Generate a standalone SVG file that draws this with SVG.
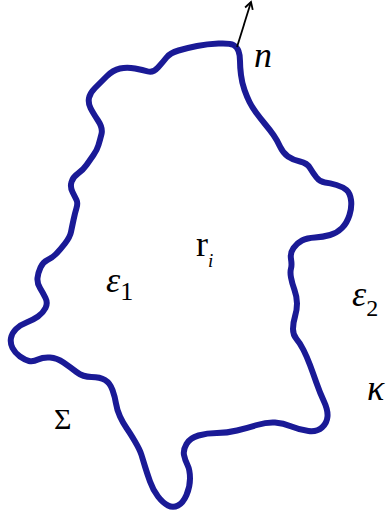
<svg xmlns="http://www.w3.org/2000/svg" width="390" height="520" viewBox="0 0 390 520">
<style>
.t{font-family:"Liberation Serif","Times New Roman",serif;fill:#000}
.it{font-style:italic}
</style>
<defs>
<marker id="ah" markerWidth="10" markerHeight="10" refX="8" refY="5" orient="auto" markerUnits="userSpaceOnUse">
<path d="M1,1 L8,5 L1,9" fill="none" stroke="#000" stroke-width="1.8"/>
</marker>
</defs>
<rect width="390" height="520" fill="#fff"/>
<g id="boundary">
<path d="M238.5,51 Q240,55 240,61 Q240,67 241,75 Q242,83 244.5,90 Q247,97 249.5,102 Q252,107 256,112.5 Q260,118 265,124 Q270,130 273.5,135 Q277,140 280,146.5 Q283,153 288,156.5 Q293,160 300,161.5 Q307,163 310,168 Q313,173 316.5,177.5 Q320,182 325,182.5 Q330,183 336.5,185 Q343,187 346.5,190 Q350,193 351,200 Q352,207 349.5,215 Q347,223 342,228 Q337,233 330,235 Q323,237 315,237.5 Q307,238 302,240.5 Q297,243 293.5,248 Q290,253 291,259 Q292,265 291,268.5 Q290,272 291,277.5 Q292,283 294.5,290 Q297,297 297,303.5 Q297,310 295,316.5 Q293,323 293,329 Q293,335 296.5,339 Q300,343 303.5,350 Q307,357 310,365 Q313,373 316.5,383 Q320,393 324,401.5 Q328,410 327.5,416.5 Q327,423 322,427.5 Q317,432 308.5,431 Q300,430 291.5,426.5 Q283,423 275,422.5 Q267,422 257,425 Q247,428 237,430.5 Q227,433 217,433 Q207,433 198.5,435.5 Q190,438 186.5,444 Q183,450 184,455 Q185,460 187.5,465 Q190,470 190,478.5 Q190,487 186.5,495 Q183,503 178,505.5 Q173,508 168,505.5 Q163,503 158,496.5 Q153,490 150,481.5 Q147,473 145,466.5 Q143,460 141.5,455 Q140,450 135,441.5 Q130,433 126.5,428 Q123,423 120,416.5 Q117,410 116,403.5 Q115,397 112.5,390 Q110,383 105,380 Q100,377 91.5,377 Q83,377 76.5,372 Q70,367 63.5,362.5 Q57,358 50,357.5 Q43,357 38,359.5 Q33,362 29,361 Q25,360 20,356.5 Q15,353 12.5,348 Q10,343 11,338 Q12,333 16,329 Q20,325 26.5,322.5 Q33,320 38,316.5 Q43,313 45.5,308 Q48,303 45.5,298 Q43,293 40,288 Q37,283 37.5,278 Q38,273 40.5,267.5 Q43,262 47.5,260 Q52,258 56,254 Q60,250 65,243.5 Q70,237 71,232 Q72,227 73.5,220 Q75,213 76.5,208 Q78,203 76.5,200 Q75,197 72.5,192 Q70,187 71.5,182 Q73,177 78,173.5 Q83,170 86.5,165 Q90,160 93.5,155 Q97,150 98.5,145 Q100,140 101.5,134 Q103,128 98,120.5 Q93,113 90.5,108 Q88,103 89,98 Q90,93 95,88 Q100,83 106.5,76.5 Q113,70 120,68.5 Q127,67 135,68.5 Q143,70 148,71.5 Q153,73 158,67.5 Q163,62 166.5,57.5 Q170,53 178.5,50.5 Q187,48 197,46 Q207,44 218.5,43.5 Q230,43 233.5,45 Q237,47 238.5,51 Z" fill="none" stroke="#1a1a96" stroke-width="6" stroke-linejoin="round"/>
</g>
<g id="connectors">
<line x1="237" y1="47" x2="251" y2="2" stroke="#000" stroke-width="1.8" marker-end="url(#ah)"/>
</g>
<g id="labels">
<text class="t it" x="254" y="67" font-size="36">n</text>
<text class="t" x="196" y="256" font-size="36">r<tspan class="it" font-size="19" dy="11">i</tspan></text>
<text class="t it" x="106" y="292" font-size="36">ε<tspan font-style="normal" font-size="26" dy="8">1</tspan></text>
<text class="t it" x="352" y="306" font-size="36">ε<tspan font-style="normal" font-size="24" dy="10">2</tspan></text>
<text class="t it" x="367" y="400" font-size="36">κ</text>
<text class="t" x="54" y="429" font-size="30">Σ</text>
</g>
</svg>
